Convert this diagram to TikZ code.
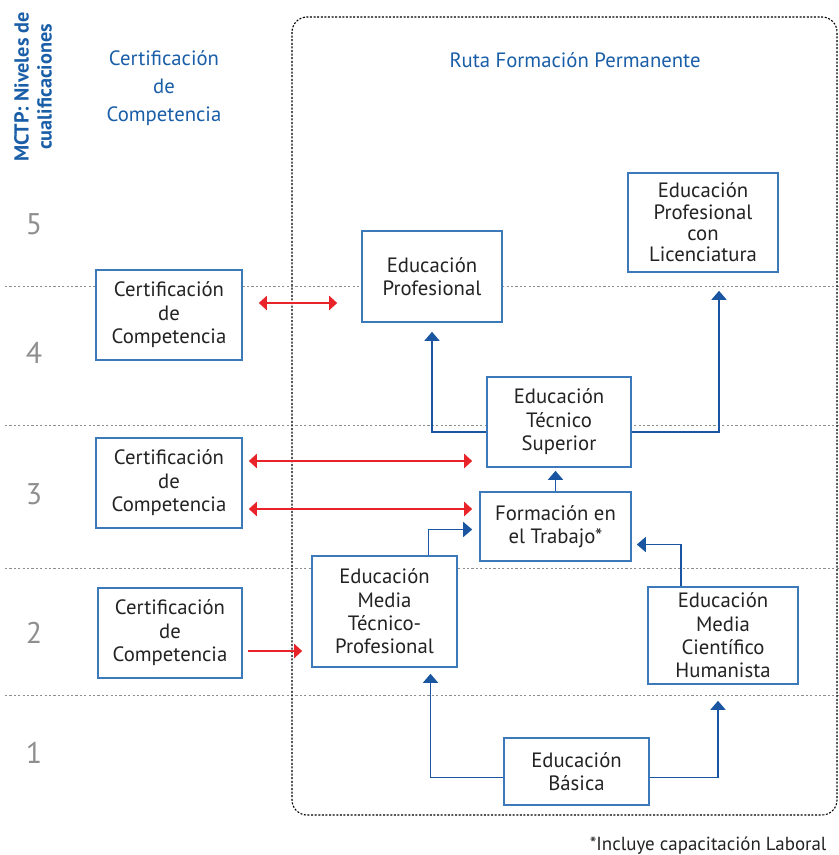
\documentclass[tikz,border=0pt]{standalone}
\usepackage{fontspec}
\setmainfont{PT Sans}
\usetikzlibrary{arrows.meta,calc}
\definecolor{titleblue}{HTML}{1A5EA8}
\definecolor{boxblue}{HTML}{3C79BA}
\definecolor{arrowblue}{HTML}{1955A0}
\definecolor{arrowred}{HTML}{E8232A}
\definecolor{levelgray}{HTML}{8E8E8E}
\definecolor{textgray}{HTML}{232323}
\begin{document}
\begin{tikzpicture}[x=1bp,y=-1bp,
  box/.style={draw=boxblue, line width=1.6bp, fill=white, align=center,
    text=textgray, font=\fontsize{20.8}{23.5}\selectfont, inner sep=0pt},
  gridline/.style={levelgray, line width=0.9bp, dash pattern=on 2.2bp off 2.2bp},
  level/.style={levelgray, font=\fontsize{30}{30}\selectfont},
  heading/.style={titleblue, align=center, font=\fontsize{20.8}{28}\selectfont},
  barrow/.style={arrowblue, line width=1.6bp, -{Triangle[width=15bp,length=9bp]}},
  rarrow/.style={arrowred, line width=2.4bp, -{Triangle[width=14bp,length=8bp]}},
  rdouble/.style={rarrow, {Triangle[width=14bp,length=8bp]}-{Triangle[width=14bp,length=8bp]}}]
\useasboundingbox (0,0) rectangle (839,855);

% level separators
\foreach \yy in {286,425,568,695}
  \draw[gridline] (5,\yy) -- (839,\yy);

% frame of the training route
\draw[black, line width=1.1bp, dash pattern=on 2bp off 1.6bp, rounded corners=15bp]
  (292,17) rectangle (837,815);

% titles
\node[titleblue, rotate=90, align=center, font=\bfseries\fontsize{20.3}{23}\selectfont]
  (mctp) at (33,87) {MCTP: Niveles de\\cualificaciones};
\node[heading] (hcert) at (164,88) {Certificación\\de\\Competencia};
\node[heading] (hruta) at (575,60) {Ruta Formación Permanente};

% qualification levels
\node[level] (n5) at (34,224) {5};
\node[level] (n4) at (34,353) {4};
\node[level] (n3) at (34,494) {3};
\node[level] (n2) at (34,633) {2};
\node[level] (n1) at (34,753) {1};

% certification boxes
\node[box, minimum width=146bp, minimum height=90bp] (c4) at (169,315) {Certificación\\de\\Competencia};
\node[box, minimum width=146bp, minimum height=90bp] (c3) at (169,483) {Certificación\\de\\Competencia};
\node[box, minimum width=144bp, minimum height=90bp] (c2) at (170,633) {Certificación\\de\\Competencia};

% training route boxes
\node[box, minimum width=140bp, minimum height=91bp] (edprof) at (432,276.5) {Educación\\Profesional};
\node[box, minimum width=150bp, minimum height=99bp, font=\fontsize{20.8}{21.5}\selectfont] (lic) at (703,222.5) {Educación\\Profesional\\con\\Licenciatura};
\node[box, minimum width=144bp, minimum height=90bp] (ets) at (559,422) {Educación\\Técnico\\Superior};
\node[box, minimum width=151bp, minimum height=69bp] (ft) at (555.5,526.5) {Formación en\\el Trabajo*};
\node[box, minimum width=145bp, minimum height=111bp] (emtp) at (384.5,611.5) {Educación\\Media\\Técnico-\\Profesional};
\node[box, minimum width=150bp, minimum height=97bp] (emch) at (723,635.5) {Educación\\Media\\Científico\\Humanista};
\node[box, minimum width=145bp, minimum height=67bp] (eb) at (576.5,771.5) {Educación\\Básica};

% progression arrows
\draw[barrow] ([yshift=-10bp]ets.west) -| ([yshift=-9bp]edprof.south);
\draw[barrow] ([yshift=-10bp]ets.east) -| ([xshift=16bp,yshift=-18bp]lic.south);
\draw[barrow] (ft.north) -- ([yshift=-3bp]ft.north |- ets.south);
\draw[barrow] ([xshift=44bp]emtp.north) |- ([xshift=-7bp,yshift=-3bp]ft.west);
\draw[barrow] ([xshift=-42bp]emch.north) |- ([xshift=5bp,yshift=-18bp]ft.east);
\draw[barrow] ([yshift=-6bp]eb.west) -| ([xshift=46bp,yshift=-6bp]emtp.south);
\draw[barrow] ([yshift=-6bp]eb.east) -| ([xshift=-5bp,yshift=-16bp]emch.south);

% equivalence with competence certification
\coordinate (r4) at ($(c4.east)+(16,-12)$);
\draw[rdouble] (r4) -- ($(r4 -| edprof.west)+(-24,0)$);
\coordinate (r3a) at ($(c3.east)+(6,-22)$);
\draw[rdouble] (r3a) -- ($(r3a -| ets.west)+(-14,0)$);
\coordinate (r3b) at ($(c3.east)+(6,26)$);
\draw[rdouble] (r3b) -- ($(r3b -| ft.west)+(-7,0)$);
\coordinate (r2) at ($(c2.east)+(5,18)$);
\draw[rarrow] (r2) -- ($(r2 -| emtp.west)+(-9,0)$);

% footnote
\node[textgray, anchor=east, font=\fontsize{19}{20}\selectfont] (nota) at (830,846) {*Incluye capacitación Laboral};
\end{tikzpicture}
\end{document}
